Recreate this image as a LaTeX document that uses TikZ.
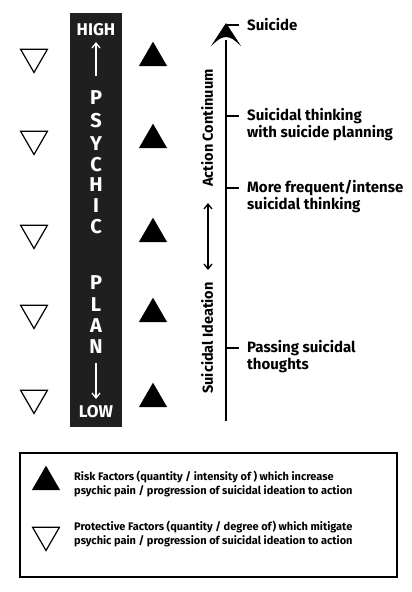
\documentclass[tikz,border=0pt]{standalone}
\usepackage{fontspec}
\setmainfont{Fira Sans}
\usetikzlibrary{arrows.meta,shapes.geometric}
\tikzset{
  openT/.style={regular polygon, regular polygon sides=3, shape border rotate=180, draw=black, line width=1.2pt, minimum size=31pt, inner sep=0pt},
  fillT/.style={regular polygon, regular polygon sides=3, draw=black, fill=black, line width=0.8pt, minimum size=31pt, inner sep=0pt},
  col/.style={text=white, font=\bfseries\fontsize{20}{20}\selectfont, inner sep=0pt},
  colsm/.style={text=white, font=\bfseries\fontsize{17}{17}\selectfont, inner sep=0pt},
  lbl/.style={anchor=west, align=left, font=\bfseries\fontsize{15}{17}\selectfont, inner sep=0pt},
  rot/.style={rotate=90, font=\bfseries\fontsize{14.5}{15}\selectfont, inner sep=0pt},
  leg/.style={anchor=west, align=left, font=\bfseries\fontsize{11}{14}\selectfont, inner sep=0pt},
  tick/.style={line width=2.6pt},
}
\begin{document}
\begin{tikzpicture}[x=1pt,y=-1pt]
\useasboundingbox (0,0) rectangle (412,592);
% column
\fill[black!88] (70,13) rectangle (122,427);
\node[colsm] (high) at (96,30) {HIGH};
\node[colsm] (low) at (96,412) {LOW};
\coordinate (au1) at (96,76);
\coordinate (au2) at (96,42);
\draw[white, line width=1.3pt, -{Straight Barb[length=5pt,width=8pt]}] (au1) -- (au2);
\coordinate (ad1) at (96,363);
\coordinate (ad2) at (96,399);
\draw[white, line width=1.3pt, -{Straight Barb[length=5pt,width=8pt]}] (ad1) -- (ad2);
\foreach \l/\y [count=\i] in {P/98,S/121,Y/144,C/165,H/185,I/206,C/227,P/283,L/305,A/326,N/347}
  \node[col] (c\i) at (96,\y) {\l};
% triangles
\foreach \y [count=\i] in {57,139,233,313,398}{
  \node[openT] (o\i) at (34,\y) {};
  \node[fillT] (f\i) at (153,\y+1) {};
}
% main axis
\coordinate (abot) at (226,421);
\coordinate (atop) at (226,23);
\draw[line width=2.6pt] (abot) -- (226,40);
\fill (atop) -- (241,46) .. controls (232,38) .. (226,37) .. controls (220,38) .. (211,46) -- cycle;
% ticks
\foreach \y/\n in {25/t1,116/t2,188/t3,348/t4}{
  \coordinate (\n a) at (226,\y);
  \coordinate (\n b) at (239,\y);
  \draw[tick] (\n a) -- (\n b);
}
\node[lbl] (s1) at (247,25) {Suicide};
\node[lbl] (s2) at (247,124.5) {Suicidal thinking\\with suicide planning};
\node[lbl] (s3) at (247,196.5) {More frequent/intense\\suicidal thinking};
\node[lbl] (s4) at (247,356.5) {Passing suicidal\\thoughts};
\node[rot] (ac) at (207,128) {Action Continuum};
\node[rot] (si) at (207,338) {Suicidal Ideation};
\coordinate (d1) at (208,203);
\coordinate (d2) at (208,270);
\draw[line width=1.3pt, {Straight Barb[length=5pt,width=8pt]}-{Straight Barb[length=5pt,width=8pt]}] (d1) -- (d2);
% legend
\draw[line width=1.2pt] (20,453) rectangle (397,577);
\node[fillT] (lf) at (46,482) {};
\node[openT] (lo) at (46,535) {};
\node[leg] (lt1) at (74,484) {Risk Factors (quantity / intensity of ) which increase\\psychic pain / progression of suicidal ideation to action};
\node[leg] (lt2) at (74,533.5) {Protective Factors (quantity / degree of) which mitigate\\psychic pain / progression of suicidal ideation to action};
\end{tikzpicture}
\end{document}
